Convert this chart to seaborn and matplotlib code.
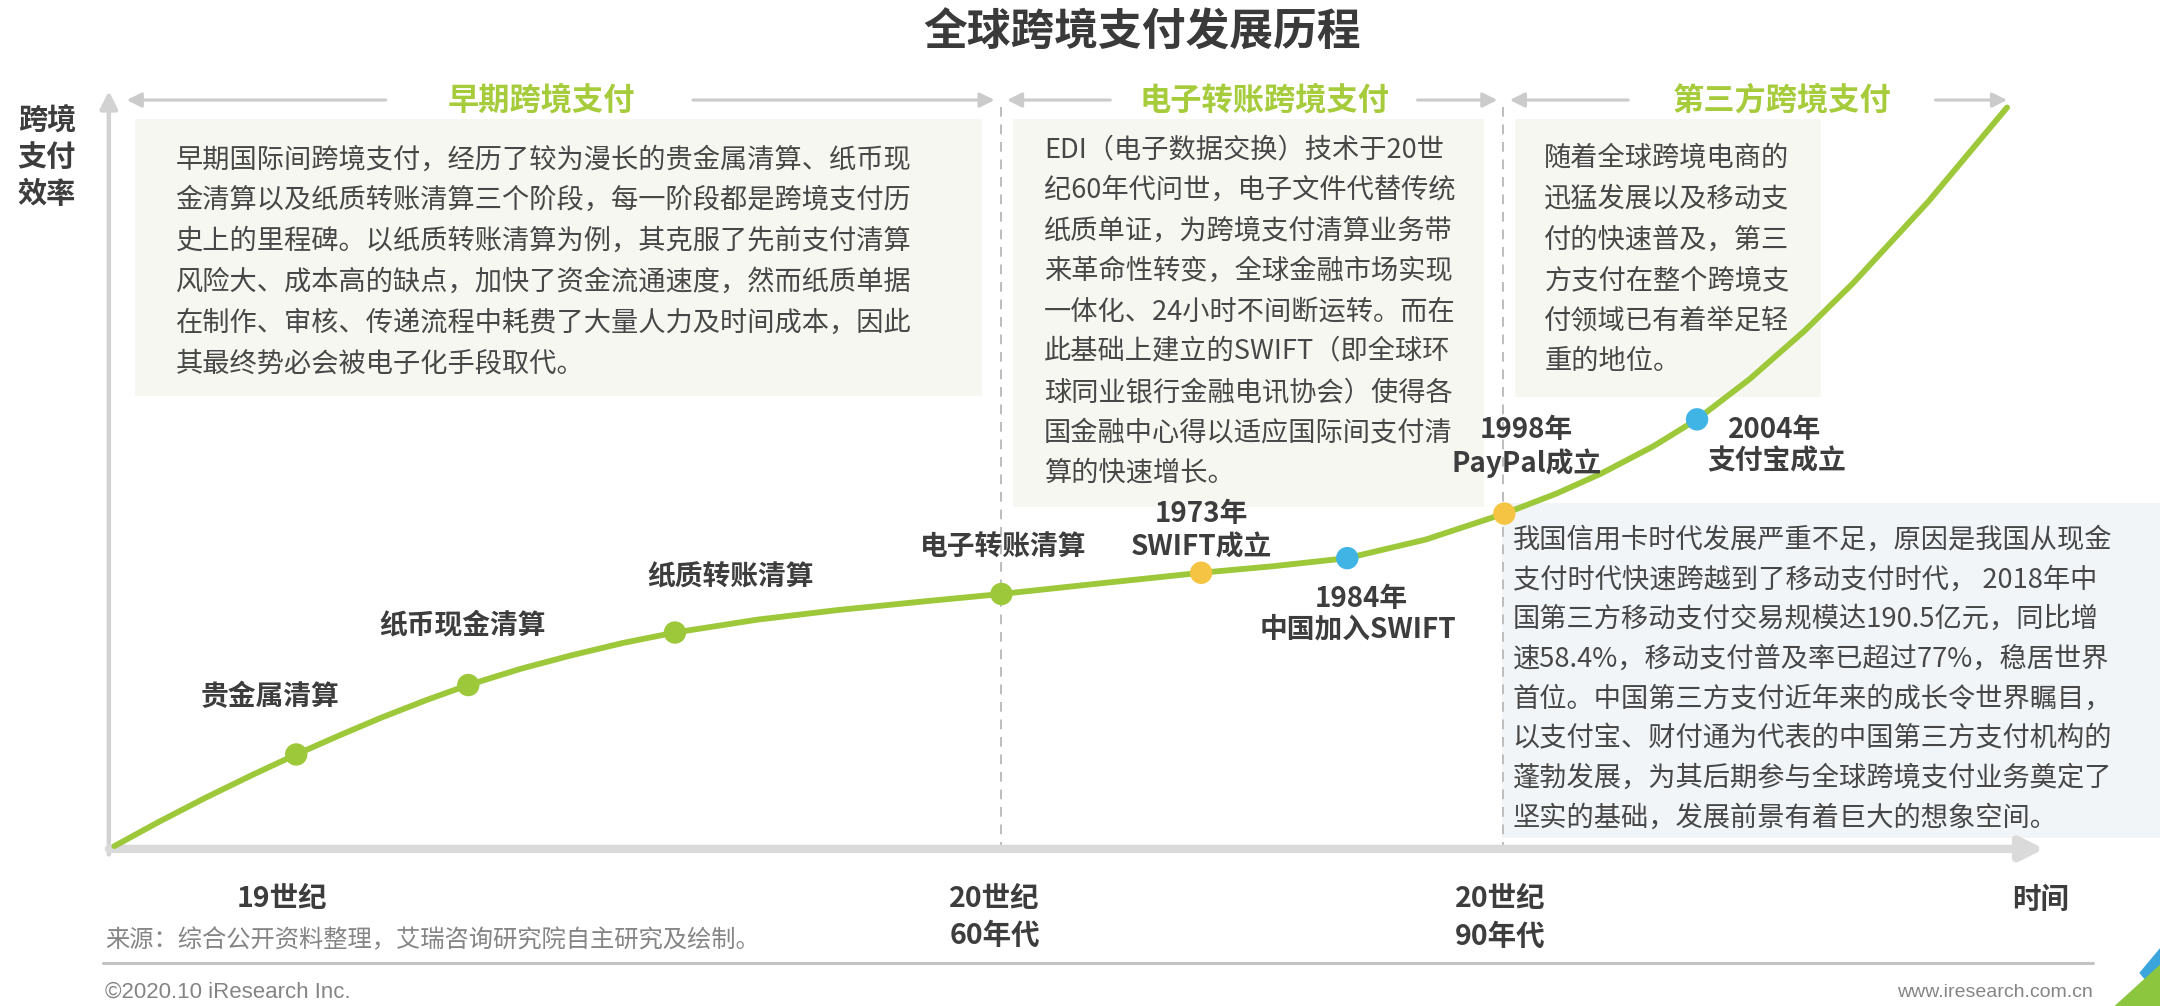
import matplotlib
matplotlib.use("Agg")
import matplotlib.pyplot as plt
import seaborn as sns
import pandas as pd
from matplotlib.patches import Rectangle, Polygon
from matplotlib.lines import Line2D

# ---------------- data ----------------
# curve: time index 0-100 (left -> right), efficiency index 0-100 (bottom -> top)
curve_time = [0, 2.33, 4.80, 7.28, 9.61, 11.86, 14.12, 16.52, 18.70, 21.47, 24.16, 26.86,
              29.62, 33.99, 38.21, 42.72, 46.87, 52.18, 57.42, 61.28, 65.14, 69.29, 73.44,
              76.20, 78.53, 81.30, 83.62, 86.39, 89.30, 91.85, 95.85, 100]
curve_eff = [0, 3.26, 6.53, 9.63, 12.41, 14.96, 17.41, 19.81, 21.81, 24.01, 25.84, 27.50,
             28.92, 30.67, 31.96, 33.12, 34.14, 35.60, 37.01, 37.91, 38.99, 41.51, 45.02,
             47.74, 50.41, 54.12, 57.78, 63.21, 69.76, 76.18, 87.29, 100]

milestone_names = ["贵金属清算", "纸币现金清算", "纸质转账清算", "电子转账清算",
                   "1973年\nSWIFT成立", "1984年\n中国加入SWIFT", "1998年\nPayPal成立", "2004年\n支付宝成立"]
milestone_time = [9.61, 18.70, 29.62, 46.87, 57.42, 65.14, 73.44, 83.62]
milestone_eff = [12.41, 21.81, 28.92, 34.14, 37.01, 38.99, 45.02, 57.78]
milestone_type = ["清算方式", "清算方式", "清算方式", "清算方式", "国际事件", "中国事件", "国际事件", "中国事件"]

phase_names = ["早期跨境支付", "电子转账跨境支付", "第三方跨境支付"]
time_tick_labels = ["19世纪", "20世纪\n60年代", "20世纪\n90年代"]

box1_lines = [
    "早期国际间跨境支付，经历了较为漫长的贵金属清算、纸币现",
    "金清算以及纸质转账清算三个阶段，每一阶段都是跨境支付历",
    "史上的里程碑。以纸质转账清算为例，其克服了先前支付清算",
    "风险大、成本高的缺点，加快了资金流通速度，然而纸质单据",
    "在制作、审核、传递流程中耗费了大量人力及时间成本，因此",
    "其最终势必会被电子化手段取代。"]
box2_lines = [
    "EDI（电子数据交换）技术于20世",
    "纪60年代问世，电子文件代替传统",
    "纸质单证，为跨境支付清算业务带",
    "来革命性转变，全球金融市场实现",
    "一体化、24小时不间断运转。而在",
    "此基础上建立的SWIFT（即全球环",
    "球同业银行金融电讯协会）使得各",
    "国金融中心得以适应国际间支付清",
    "算的快速增长。"]
box3_lines = ["随着全球跨境电商的", "迅猛发展以及移动支", "付的快速普及，第三",
              "方支付在整个跨境支", "付领域已有着举足轻", "重的地位。"]
box4_lines = [
    "我国信用卡时代发展严重不足，原因是我国从现金",
    "支付时代快速跨越到了移动支付时代， 2018年中",
    "国第三方移动支付交易规模达190.5亿元，同比增",
    "速58.4%，移动支付普及率已超过77%，稳居世界",
    "首位。中国第三方支付近年来的成长令世界瞩目，",
    "以支付宝、财付通为代表的中国第三方支付机构的",
    "蓬勃发展，为其后期参与全球跨境支付业务奠定了",
    "坚实的基础，发展前景有着巨大的想象空间。"]

# ---------------- style ----------------
sns.set_theme(style="white")
plt.rcParams["font.family"] = ["Noto Sans CJK SC", "DejaVu Sans"]

GREEN = "#9dc83a"
HEAD_GREEN = "#a6cb3b"
YELLOW = "#f6c443"
BLUE = "#3fb4e5"
DARK = "#3d3d3d"
BODY = "#474747"
GREY = "#858585"

fig = plt.figure(figsize=(21.6, 10.06), dpi=100)
ax = fig.add_axes([0, 0, 1, 1])
XL, YL = (-6.04, 108.08), (-21.64, 114.55)

W, H = 1568.0, 730.0


def F(x, y):
    return (x / W, 1 - y / H)


def txt(x, y, s, size=20, color=BODY, weight="normal", ha="left", va="center", **kw):
    ax.text(*F(x, y), s, transform=ax.transAxes, fontsize=size, color=color,
            fontweight=weight, ha=ha, va=va, **kw)


def rect(x0, y0, x1, y1, color, z=0):
    ax.add_patch(Rectangle(F(x0, y1), (x1 - x0) / W, (y1 - y0) / H, transform=ax.transAxes,
                           facecolor=color, edgecolor="none", zorder=z, clip_on=False))


def arrow(p_from, p_to, color, lw, ms, style="-|>", z=1):
    ax.annotate("", xy=F(*p_to), xytext=F(*p_from), xycoords="axes fraction",
                textcoords="axes fraction",
                arrowprops=dict(arrowstyle=style, color=color, lw=lw, mutation_scale=ms,
                                shrinkA=0, shrinkB=0), zorder=z)


# ---------------- background boxes ----------------
rect(98, 86, 713, 287, "#f7f7f2")
rect(735, 86, 1077, 368, "#f7f7f2")
rect(1100, 86, 1322, 288, "#f7f7f2")
rect(1090, 365, 1568, 608, "#f1f5f8")

# dashed dividers
for xv in (727, 1091):
    ax.add_line(Line2D([xv / W, xv / W], [1 - 78 / H, 1 - 617 / H], transform=ax.transAxes,
                       color="#bdbdbd", lw=1.4, ls=(0, (5, 4)), zorder=1))

# axes arrows
arrow((79, 620), (79, 66), "#d2d2d2", 3.2, 26)
arrow((79, 616), (1484, 616), "#dadada", 6, 34)

# phase header arrows
for (l0, l1, r0, r1) in [(280, 92, 503, 722), (806, 731, 1029, 1087), (1182, 1096, 1405, 1457)]:
    arrow((l0, 72.6), (l1, 72.6), "#cbcbcb", 2.2, 22)
    arrow((r0, 72.6), (r1, 72.6), "#cbcbcb", 2.2, 22)
for name, cx in zip(phase_names, [393, 918, 1294]):
    txt(cx, 72.6, name, size=22.5, color=HEAD_GREEN, weight="bold", ha="center")

# ---------------- curve + milestones (seaborn) ----------------
curve = pd.DataFrame({"时间": curve_time, "效率": curve_eff})
sns.lineplot(data=curve, x="时间", y="效率", ax=ax, color=GREEN, lw=4.2, sort=False,
             estimator=None, zorder=3, solid_joinstyle="round", solid_capstyle="round")
ms = pd.DataFrame({"时间": milestone_time, "效率": milestone_eff, "类型": milestone_type,
                   "名称": milestone_names})
sns.scatterplot(data=ms, x="时间", y="效率", hue="类型", ax=ax, s=260, linewidth=0,
                palette={"清算方式": GREEN, "国际事件": YELLOW, "中国事件": BLUE},
                legend=False, zorder=4)
ax.set_xlim(*XL)
ax.set_ylim(*YL)
ax.axis("off")

# milestone labels (line positions in canvas)
label_pos = [[(196, 506)], [(336, 454)], [(530, 419)], [(728, 397)],
             [(872, 373), (872, 397)], [(988, 435), (986, 457)],
             [(1108, 312), (1108, 336)], [(1288, 312), (1290, 335)]]
for name, pos in zip(milestone_names, label_pos):
    for line, (x, y) in zip(name.split("\n"), pos):
        txt(x, y, line, size=20, color=DARK, weight="bold", ha="center")

# ---------------- text boxes ----------------
for lines, x0, y0, dy in [(box1_lines, 127.5, 116, 29.6), (box2_lines, 758, 109, 29.3),
                          (box3_lines, 1121, 115, 29.5), (box4_lines, 1098, 392, 28.8)]:
    for i, line in enumerate(lines):
        txt(x0, y0 + i * dy, line, size=19.6, color=BODY)

# ---------------- axis labels ----------------
for i, line in enumerate(["跨境", "支付", "效率"]):
    txt(34, 87 + i * 27, line, size=21, color=DARK, weight="bold", ha="center")

tick_pos = [[(205, 652)], [(722, 652), (722, 679)], [(1089, 652), (1089, 680)]]
for lab, pos in zip(time_tick_labels, tick_pos):
    for line, (x, y) in zip(lab.split("\n"), pos):
        txt(x, y, line, size=20.5, color=DARK, weight="bold", ha="center")
txt(1481, 653, "时间", size=20.5, color=DARK, weight="bold", ha="center")

# ---------------- title & footer ----------------
txt(829, 24, "全球跨境支付发展历程", size=31.5, color="#3a3a3a", weight="bold", ha="center")
txt(76, 682, "来源：综合公开资料整理，艾瑞咨询研究院自主研究及绘制。", size=17.5, color=GREY)
ax.add_line(Line2D([75 / W, 1519 / W], [1 - 699 / H, 1 - 699 / H], transform=ax.transAxes,
                   color="#c4c4c4", lw=2.2, zorder=1))
txt(76, 720, "©2020.10 iResearch Inc.", size=16, color=GREY, family=["Liberation Sans", "DejaVu Sans"])
txt(1519, 720, "www.iresearch.com.cn", size=14, color=GREY, ha="right",
    family=["Liberation Sans", "DejaVu Sans"])

# corner decoration
ax.add_patch(Polygon([F(1553, 706), F(1568, 688), F(1568, 724)], closed=True, transform=ax.transAxes,
                     facecolor="#3aa4dc", edgecolor="none", clip_on=False, zorder=2))
ax.add_patch(Polygon([F(1535, 730), F(1568, 700), F(1568, 730)], closed=True, transform=ax.transAxes,
                     facecolor="#8cc63f", edgecolor="none", clip_on=False, zorder=3))

fig.savefig("out.png", dpi=100, facecolor="white")
